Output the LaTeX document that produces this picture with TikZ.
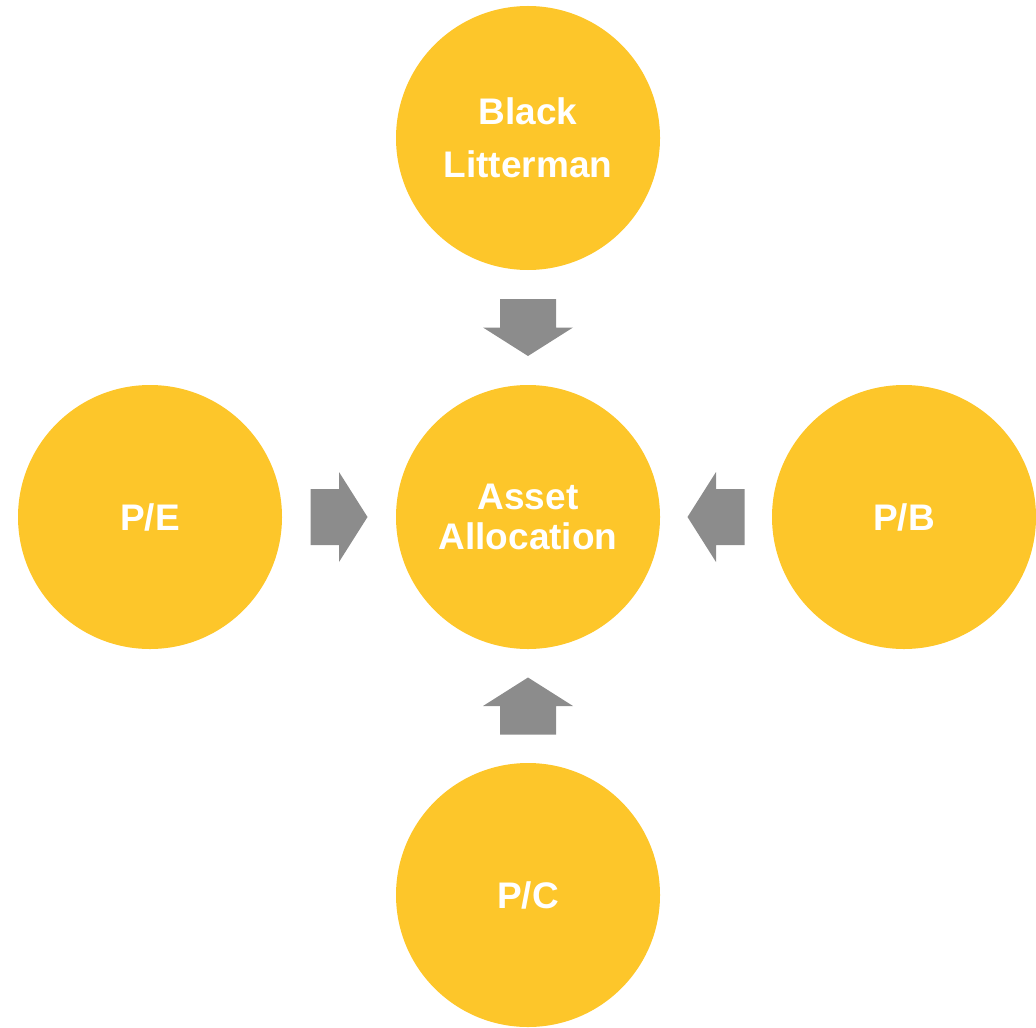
\documentclass[tikz,border=0pt]{standalone}
\usepackage{fontspec}
\setmainfont{Liberation Sans}
\usepackage{xcolor}
\usetikzlibrary{calc}

\definecolor{ballyellow}{HTML}{FDC62A}
\definecolor{arrowgray}{HTML}{8C8C8C}

\begin{document}
\begin{tikzpicture}[
    x=0.5pt, y=-0.5pt,
    ball/.style={circle, fill=ballyellow, minimum size=132pt, inner sep=0pt,
                 text=white, align=center, font=\fontsize{18.5}{20}\selectfont\bfseries},
    blockarr/.pic={\fill[arrowgray] (-28.5,-28) -- (0,-28) -- (0,-45) -- (28.5,0)
                   -- (0,45) -- (0,28) -- (-28.5,28) -- cycle;},
]
\useasboundingbox (0,0) rectangle (1036,1027);

\node[ball] (aa) at (528,517) {Asset\\Allocation};
\node[ball] (bl) at (528,138) {Black\\[6.5pt]Litterman};
\node[ball] (pe) at (150,517) {P/E};
\node[ball] (pb) at (904,517) {P/B};
\node[ball] (pc) at (528,895) {P/C};

% block arrows pointing at the centre
\foreach \src/\ang in {bl/-90, pe/0, pb/180, pc/90}
  \pic[rotate=\ang] at ($(\src)!.5!(aa)$) {blockarr};
\end{tikzpicture}
\end{document}
